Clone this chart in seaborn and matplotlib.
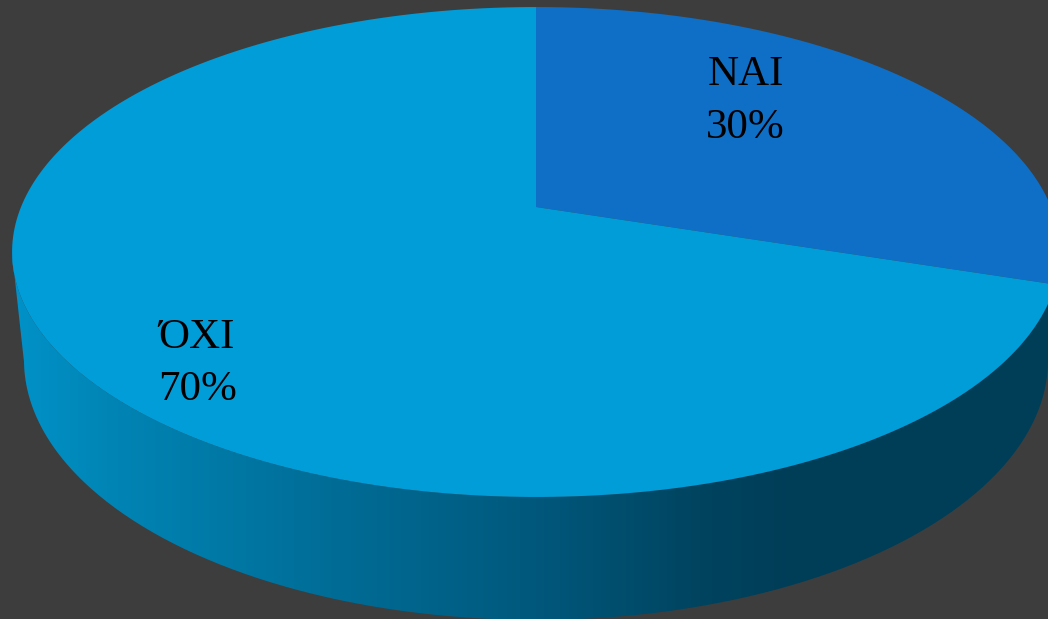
import numpy as np
import matplotlib
matplotlib.use("Agg")
import matplotlib.pyplot as plt
import seaborn as sns
from matplotlib.colors import LinearSegmentedColormap
from matplotlib.path import Path
from matplotlib.transforms import Affine2D, Transform

labels = ["ΝΑΙ", "ΌΧΙ"]
values = [30, 70]
value_text = ["30%", "70%"]
slice_colors = ["#0F6FC6", "#009DD9"]

label_x = [708, 158]
label_y = [85, 348]
value_x = [706, 158]
value_y = [138, 400]

BG = "#3D3D3D"
W, H = 1048, 619

sns.set_style("white")
plt.rcParams["font.family"] = ["Liberation Serif", "DejaVu Serif"]


class Tilt(Transform):
    # flat disc -> tilted disc seen in perspective, output in pixels
    input_dims = 2
    output_dims = 2

    def __init__(self, cx, cy, a, b, k):
        super().__init__()
        self.cx, self.cy, self.a, self.b, self.k = cx, cy, a, b, k

    def transform_non_affine(self, xy):
        xy = np.asarray(xy, dtype=float)
        d = 1 + self.k * xy[:, 1]
        return np.column_stack([self.cx + self.a * xy[:, 0] / d,
                                self.cy - self.b * xy[:, 1] / d])

    def transform_path_non_affine(self, path):
        flat = path.to_polygons(Affine2D().scale(2000), closed_only=False)[0] / 2000
        return Path(self.transform_non_affine(flat))


top = Tilt(536, 207, 515, 236.7, 0.1837)
bottom = Tilt(536, 312.2, 503.3, 251.2, 0.1837)

fig = plt.figure(figsize=(W / 100, H / 100), dpi=100, facecolor=BG)
ax = fig.add_axes([0, 0, 1, 1])

wedges, _ = ax.pie(values, colors=slice_colors, startangle=90, counterclock=False,
                   radius=1, wedgeprops={"linewidth": 0})
ax.set_aspect("auto")
ax.set_xlim(0, W)
ax.set_ylim(H, 0)
ax.axis("off")
for w in wedges:
    w.set_transform(top + ax.transData)
    w.set_zorder(3)

# side wall: outline of the lower rim, joined to the widest points of the top disc
t = np.linspace(0, 2 * np.pi, 721)
disc = np.column_stack([np.cos(t), np.sin(t)])
low = bottom.transform_non_affine(disc)
low = low[low[:, 1] >= 360]
low = low[np.argsort(-low[:, 0])]
rim = top.transform_non_affine(disc)
rim = rim[rim[:, 1] >= 252]
rim = rim[np.argsort(rim[:, 0])]
wall = Path(np.vstack([rim, low, rim[:1]]))

shade = LinearSegmentedColormap.from_list(
    "wall",
    [(0.0, "#0092C9"), (0.09, "#0085B5"), (0.275, "#00709B"), (0.37, "#00668E"),
     (0.5, "#00587C"), (0.656, "#004460"), (0.75, "#003D57"), (1.0, "#003F59")],
)
img = ax.imshow(np.linspace(0, 1, 512)[None, :], cmap=shade, aspect="auto",
                extent=(12, 1060, H, 0), zorder=2)
img.set_clip_path(wall, ax.transData)
ax.set_xlim(0, W)
ax.set_ylim(H, 0)

for i in range(len(labels)):
    ax.text(label_x[i], label_y[i], labels[i], fontsize=31, color="black",
            ha="left", va="baseline", zorder=4)
    ax.text(value_x[i], value_y[i], value_text[i], fontsize=31, color="black",
            ha="left", va="baseline", zorder=4)

fig.savefig("out.png", dpi=100, facecolor=BG)
